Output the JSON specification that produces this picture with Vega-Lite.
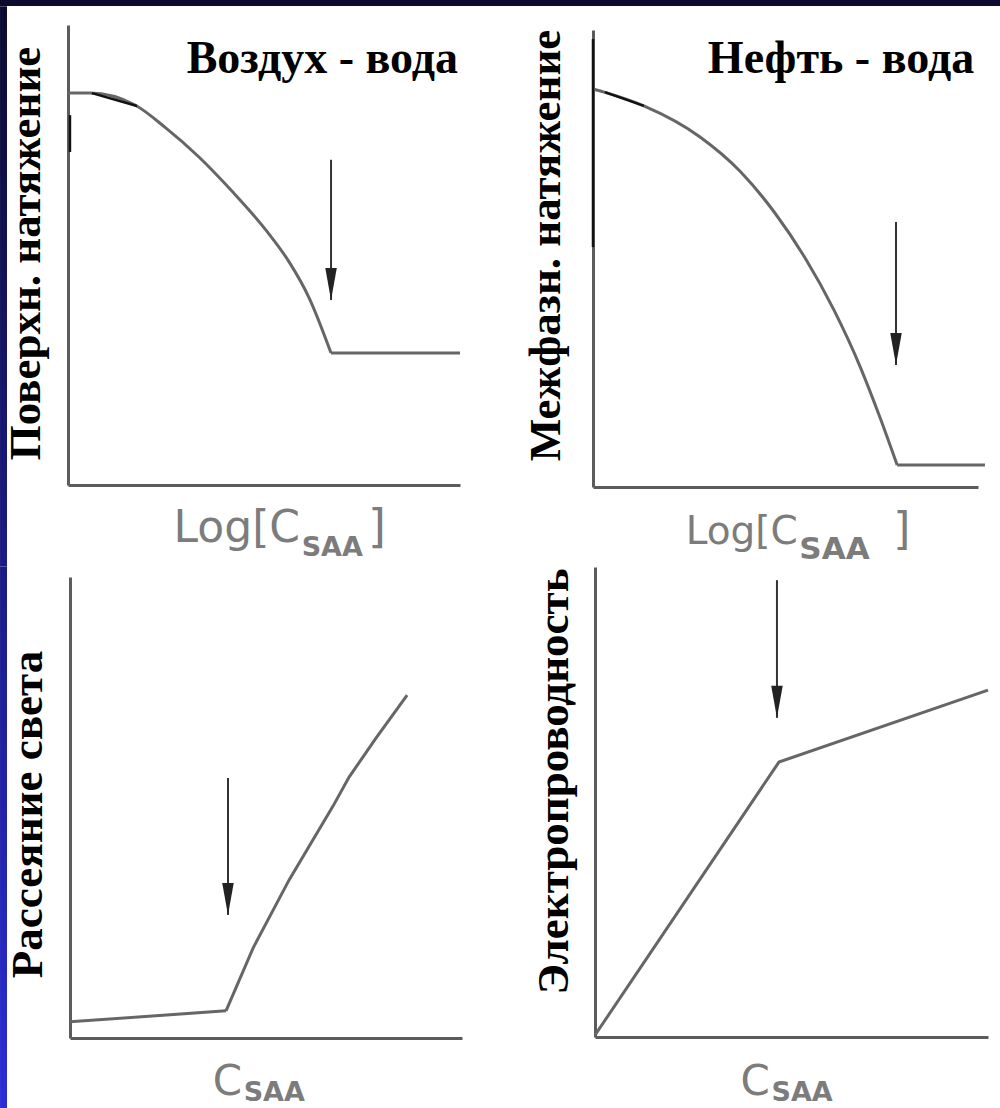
{
  "$schema": "https://vega.github.io/schema/vega-lite/v6.json",
  "background": "#0b0b30",
  "padding": {"left": 0, "top": 6, "right": 0, "bottom": 0},
  "spacing": 0,
  "bounds": "flush",
  "columns": 2,
  "config": {
    "view": {"fill": "white", "stroke": null},
    "concat": {"spacing": 0},
    "axis": {"labels": false, "ticks": false, "grid": false, "domainColor": "#5c5c5c", "domainWidth": 3,
             "titleFont": "Liberation Serif", "titleFontWeight": "bold", "titleFontSize": 45, "titleColor": "#000000"}
  },
  "datasets": {
    "one": [{}],
    "p1": [
      {"seg": "a", "x": 0, "y": 85.2}, {"seg": "a", "x": 5.6, "y": 85.2}, {"seg": "a", "x": 17.1, "y": 82.6},
      {"seg": "a", "x": 24.7, "y": 77.8}, {"seg": "a", "x": 33.4, "y": 71.3}, {"seg": "a", "x": 41.8, "y": 63.9},
      {"seg": "a", "x": 50.5, "y": 55.4}, {"seg": "a", "x": 56.4, "y": 48.5}, {"seg": "a", "x": 61.5, "y": 40.7},
      {"seg": "a", "x": 67.1, "y": 28.7},
      {"seg": "b", "x": 67.1, "y": 28.7}, {"seg": "b", "x": 100, "y": 28.7}
    ],
    "ink1": [
      {"seg": "a", "x": 6.1, "y": 85.2}, {"seg": "a", "x": 17.6, "y": 82.4},
      {"seg": "b", "x": 0.5, "y": 80.4}, {"seg": "b", "x": 0.5, "y": 72.4}
    ],
    "a1": [{"x": 67.1, "y1": 70.7, "y2": 40.2}],
    "p2": [
      {"seg": "a", "x": 0, "y": 87.1}, {"seg": "a", "x": 2.9, "y": 86.4}, {"seg": "a", "x": 13.2, "y": 83.4},
      {"seg": "a", "x": 27.8, "y": 76.6}, {"seg": "a", "x": 38.2, "y": 69.1}, {"seg": "a", "x": 47.3, "y": 59.9},
      {"seg": "a", "x": 55.1, "y": 50.1}, {"seg": "a", "x": 62.6, "y": 38.7}, {"seg": "a", "x": 69.4, "y": 26.3},
      {"seg": "a", "x": 74.5, "y": 15.3}, {"seg": "a", "x": 79.0, "y": 4.8},
      {"seg": "b", "x": 79.0, "y": 4.8}, {"seg": "b", "x": 101.8, "y": 4.8}
    ],
    "ink2": [
      {"seg": "a", "x": 3.1, "y": 86.4}, {"seg": "a", "x": 13.2, "y": 83.4},
      {"seg": "b", "x": 0, "y": 98.0}, {"seg": "b", "x": 0, "y": 52.5}
    ],
    "a2": [{"x": 78.7, "y1": 58.0, "y2": 26.7}],
    "p3": [
      {"seg": "a", "x": 0, "y": 3.5}, {"seg": "a", "x": 39.8, "y": 5.9},
      {"seg": "b", "x": 39.8, "y": 5.9}, {"seg": "b", "x": 46.7, "y": 19.5}, {"seg": "b", "x": 55.9, "y": 34.3},
      {"seg": "b", "x": 67.1, "y": 50.3}, {"seg": "b", "x": 71.2, "y": 56.6}, {"seg": "b", "x": 78.1, "y": 65.1},
      {"seg": "b", "x": 86.0, "y": 74.4}
    ],
    "a3": [{"x": 40.3, "y1": 56.4, "y2": 26.7}],
    "p4": [
      {"seg": "a", "x": 0, "y": 0.4}, {"seg": "a", "x": 46.8, "y": 58.5}, {"seg": "a", "x": 100, "y": 73.8}
    ],
    "a4": [{"x": 46.3, "y1": 97.2, "y2": 67.9}]
  },
  "concat": [
    {
      "width": 500, "height": 560,
      "encoding": {
        "x": {"type": "quantitative", "scale": {"domain": [0, 100], "range": [68, 460], "nice": false, "zero": false},
              "axis": {"title": null, "offset": -81}},
        "y": {"type": "quantitative", "scale": {"domain": [0, 100], "range": [479, 19], "nice": false, "zero": false},
              "axis": {"title": "Поверхн. натяжение", "offset": -68, "titlePadding": 20, "titleY": 247}}
      },
      "layer": [
        {"data": {"name": "one"},
         "mark": {"type": "rect", "color": {"gradient": "linear", "x1": 0, "y1": 0, "x2": 0, "y2": 1,
                  "stops": [{"offset": 0, "color": "#0b0b30"}, {"offset": 1, "color": "#1b1b84"}]}},
         "encoding": {"x": {"datum": -17.34}, "x2": {"datum": -15.56}, "y": {"datum": 104.1}, "y2": {"datum": -17.6}}},
        {"data": {"name": "p1"}, "mark": {"type": "line", "interpolate": "monotone", "color": "#666666", "strokeWidth": 3},
         "encoding": {"x": {"field": "x"}, "y": {"field": "y"}, "detail": {"field": "seg"}}},
        {"data": {"name": "ink1"}, "mark": {"type": "line", "color": "#111111", "strokeWidth": 2.5},
         "encoding": {"x": {"field": "x"}, "y": {"field": "y"}, "detail": {"field": "seg"}}},
        {"data": {"name": "a1"}, "mark": {"type": "rule", "color": "#333333", "strokeWidth": 2},
         "encoding": {"x": {"field": "x"}, "y": {"field": "y1"}, "y2": {"field": "y2"}}},
        {"data": {"name": "a1"}, "mark": {"type": "point", "shape": "M-0.36,-2L0.36,-2L0,0Z", "filled": true, "size": 1024, "color": "#222222", "opacity": 1},
         "encoding": {"x": {"field": "x"}, "y": {"field": "y2"}}},
        {"data": {"name": "one"}, "mark": {"type": "text", "text": "Воздух - вода", "font": "Liberation Serif", "fontWeight": "bold", "fontSize": 46, "align": "right", "baseline": "alphabetic", "color": "#000000"},
         "encoding": {"x": {"datum": 99.5}, "y": {"datum": 89.6}}},
        {"data": {"name": "one"}, "mark": {"type": "text", "text": "Log[C", "font": "DejaVu Sans", "fontSize": 44, "align": "right", "baseline": "alphabetic", "color": "#7c7c7c"},
         "encoding": {"x": {"datum": 59.2}, "y": {"datum": -12.4}}},
        {"data": {"name": "one"}, "mark": {"type": "text", "text": "SAA", "font": "DejaVu Sans", "fontWeight": "bold", "fontSize": 27, "align": "left", "baseline": "alphabetic", "color": "#7c7c7c"},
         "encoding": {"x": {"datum": 59.6}, "y": {"datum": -15.4}}},
        {"data": {"name": "one"}, "mark": {"type": "text", "text": "]", "font": "DejaVu Sans", "fontSize": 46, "align": "left", "baseline": "alphabetic", "color": "#7c7c7c"},
         "encoding": {"x": {"datum": 76.5}, "y": {"datum": -12.4}}}
      ]
    },
    {
      "width": 500, "height": 560,
      "encoding": {
        "x": {"type": "quantitative", "scale": {"domain": [0, 100], "range": [93, 478], "nice": false, "zero": false},
              "axis": {"title": null, "offset": -79}},
        "y": {"type": "quantitative", "scale": {"domain": [0, 100], "range": [481, 24], "nice": false, "zero": false},
              "axis": {"title": "Межфазн. натяжение", "offset": -93, "titlePadding": 25, "titleY": 239}}
      },
      "layer": [
        {"data": {"name": "p2"}, "mark": {"type": "line", "interpolate": "monotone", "color": "#666666", "strokeWidth": 3},
         "encoding": {"x": {"field": "x"}, "y": {"field": "y"}, "detail": {"field": "seg"}}},
        {"data": {"name": "ink2"}, "mark": {"type": "line", "color": "#111111", "strokeWidth": 2.5},
         "encoding": {"x": {"field": "x"}, "y": {"field": "y"}, "detail": {"field": "seg"}}},
        {"data": {"name": "a2"}, "mark": {"type": "rule", "color": "#333333", "strokeWidth": 2},
         "encoding": {"x": {"field": "x"}, "y": {"field": "y1"}, "y2": {"field": "y2"}}},
        {"data": {"name": "a2"}, "mark": {"type": "point", "shape": "M-0.36,-2L0.36,-2L0,0Z", "filled": true, "size": 1024, "color": "#222222", "opacity": 1},
         "encoding": {"x": {"field": "x"}, "y": {"field": "y2"}}},
        {"data": {"name": "one"}, "mark": {"type": "text", "text": "Нефть - вода", "font": "Liberation Serif", "fontWeight": "bold", "fontSize": 46, "align": "right", "baseline": "alphabetic", "color": "#000000"},
         "encoding": {"x": {"datum": 99}, "y": {"datum": 90.6}}},
        {"data": {"name": "one"}, "mark": {"type": "text", "text": "Log[C", "font": "DejaVu Sans", "fontSize": 39, "align": "right", "baseline": "alphabetic", "color": "#7c7c7c"},
         "encoding": {"x": {"datum": 53.2}, "y": {"datum": -12.5}}},
        {"data": {"name": "one"}, "mark": {"type": "text", "text": "SAA", "font": "DejaVu Sans", "fontWeight": "bold", "fontSize": 31, "align": "left", "baseline": "alphabetic", "color": "#7c7c7c"},
         "encoding": {"x": {"datum": 53.6}, "y": {"datum": -15.8}}},
        {"data": {"name": "one"}, "mark": {"type": "text", "text": "]", "font": "DejaVu Sans", "fontSize": 44, "align": "left", "baseline": "alphabetic", "color": "#7c7c7c"},
         "encoding": {"x": {"datum": 78.0}, "y": {"datum": -12.5}}}
      ]
    },
    {
      "width": 500, "height": 542,
      "encoding": {
        "x": {"type": "quantitative", "scale": {"domain": [0, 100], "range": [70, 462], "nice": false, "zero": false},
              "axis": {"title": null, "offset": -70}},
        "y": {"type": "quantitative", "scale": {"domain": [0, 100], "range": [472, 11], "nice": false, "zero": false},
              "axis": {"title": "Рассеяние света", "offset": -70, "titlePadding": 20, "titleY": 248}}
      },
      "layer": [
        {"data": {"name": "one"},
         "mark": {"type": "rect", "color": {"gradient": "linear", "x1": 0, "y1": 0, "x2": 0, "y2": 1,
                  "stops": [{"offset": 0, "color": "#1b1b84"}, {"offset": 1, "color": "#2c2cd6"}]}},
         "encoding": {"x": {"datum": -17.85}, "x2": {"datum": -16.07}, "y": {"datum": 102.35}, "y2": {"datum": -15.18}}},
        {"data": {"name": "p3"}, "mark": {"type": "line", "color": "#666666", "strokeWidth": 3},
         "encoding": {"x": {"field": "x"}, "y": {"field": "y"}, "detail": {"field": "seg"}}},
        {"data": {"name": "a3"}, "mark": {"type": "rule", "color": "#333333", "strokeWidth": 2},
         "encoding": {"x": {"field": "x"}, "y": {"field": "y1"}, "y2": {"field": "y2"}}},
        {"data": {"name": "a3"}, "mark": {"type": "point", "shape": "M-0.36,-2L0.36,-2L0,0Z", "filled": true, "size": 1024, "color": "#222222", "opacity": 1},
         "encoding": {"x": {"field": "x"}, "y": {"field": "y2"}}},
        {"data": {"name": "one"}, "mark": {"type": "text", "text": "C", "font": "DejaVu Sans", "fontSize": 42, "align": "right", "baseline": "alphabetic", "color": "#7c7c7c"},
         "encoding": {"x": {"datum": 43.9}, "y": {"datum": -12.4}}},
        {"data": {"name": "one"}, "mark": {"type": "text", "text": "SAA", "font": "DejaVu Sans", "fontWeight": "bold", "fontSize": 27, "align": "left", "baseline": "alphabetic", "color": "#7c7c7c"},
         "encoding": {"x": {"datum": 44.3}, "y": {"datum": -13.7}}}
      ]
    },
    {
      "width": 500, "height": 542,
      "encoding": {
        "x": {"type": "quantitative", "scale": {"domain": [0, 100], "range": [95, 488], "nice": false, "zero": false},
              "axis": {"title": null, "offset": -71}},
        "y": {"type": "quantitative", "scale": {"domain": [0, 100], "range": [471, 1], "nice": false, "zero": false},
              "axis": {"title": "Электропроводность", "offset": -95, "titlePadding": 19, "titleY": 215}}
      },
      "layer": [
        {"data": {"name": "p4"}, "mark": {"type": "line", "color": "#666666", "strokeWidth": 3},
         "encoding": {"x": {"field": "x"}, "y": {"field": "y"}, "detail": {"field": "seg"}}},
        {"data": {"name": "a4"}, "mark": {"type": "rule", "color": "#333333", "strokeWidth": 2},
         "encoding": {"x": {"field": "x"}, "y": {"field": "y1"}, "y2": {"field": "y2"}}},
        {"data": {"name": "a4"}, "mark": {"type": "point", "shape": "M-0.36,-2L0.36,-2L0,0Z", "filled": true, "size": 1024, "color": "#222222", "opacity": 1},
         "encoding": {"x": {"field": "x"}, "y": {"field": "y2"}}},
        {"data": {"name": "one"}, "mark": {"type": "text", "text": "C", "font": "DejaVu Sans", "fontSize": 42, "align": "right", "baseline": "alphabetic", "color": "#7c7c7c"},
         "encoding": {"x": {"datum": 44.5}, "y": {"datum": -12.3}}},
        {"data": {"name": "one"}, "mark": {"type": "text", "text": "SAA", "font": "DejaVu Sans", "fontWeight": "bold", "fontSize": 27, "align": "left", "baseline": "alphabetic", "color": "#7c7c7c"},
         "encoding": {"x": {"datum": 44.9}, "y": {"datum": -13.6}}}
      ]
    }
  ]
}
